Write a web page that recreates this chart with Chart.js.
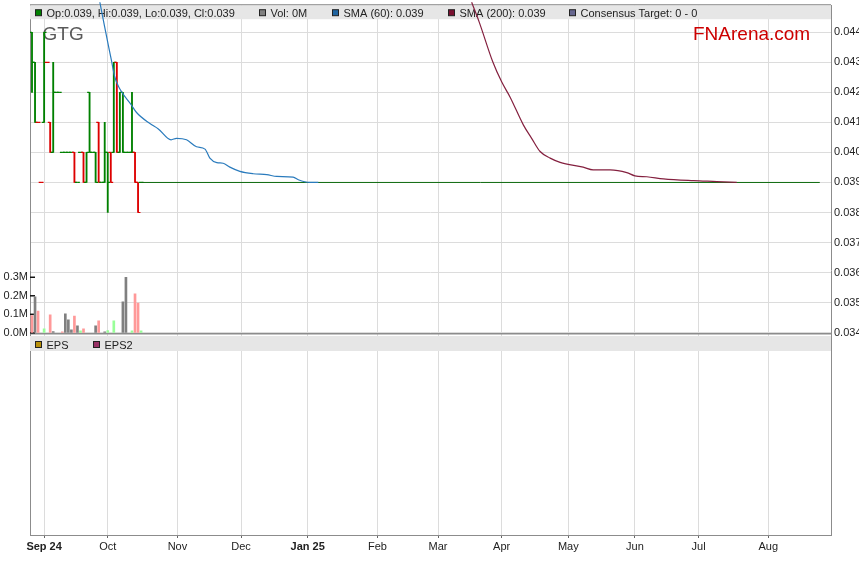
<!DOCTYPE html>
<html>
<head>
<meta charset="utf-8">
<title>GTG</title>
<script src="https://cdn.jsdelivr.net/npm/chart.js@4.4.1/dist/chart.umd.min.js"></script>
<style>
  body { margin: 0; background: #fff; }
  canvas { display: block; }
</style>
</head>
<body>
<canvas id="gtg-chart" width="859" height="566"></canvas>
<script>
// x is a trading-day index: 0 = Tue 27 Aug 2024, one step per weekday
const monthIdx = [4, 25, 48, 69, 91, 114, 134, 155, 177, 199, 220, 243];
const monthLabels = ['Sep 24', 'Oct', 'Nov', 'Dec', 'Jan 25', 'Feb', 'Mar', 'Apr', 'May', 'Jun', 'Jul', 'Aug'];
const boldLabels = ['Sep 24', 'Jan 25'];

const priceTicks = [0.034, 0.035, 0.036, 0.037, 0.038, 0.039, 0.040, 0.041, 0.042, 0.043, 0.044];
const volTicks = [0, 0.1, 0.2, 0.3];

// daily OHLC bars
const barIdx = [0, 1, 2, 3, 4, 5, 6, 7, 8, 9, 10, 11, 12, 13, 14, 15, 16, 17, 18, 19, 20, 21, 22, 23, 24, 25, 26, 27, 28, 29, 30, 31, 32, 33, 34, 35, 36];
const opens  = [0.044, 0.043, 0.041, 0.039, 0.041, 0.043, 0.041, 0.040, 0.042, 0.042, 0.040, 0.040, 0.040, 0.040, 0.040, 0.039, 0.040, 0.040, 0.039, 0.042, 0.040, 0.040, 0.041, 0.039, 0.039, 0.040, 0.040, 0.040, 0.043, 0.040, 0.042, 0.040, 0.040, 0.040, 0.040, 0.039, 0.039];
const highs  = [0.044, 0.043, 0.041, 0.039, 0.044, 0.043, 0.041, 0.043, 0.042, 0.042, 0.040, 0.040, 0.040, 0.040, 0.040, 0.039, 0.040, 0.040, 0.040, 0.042, 0.040, 0.040, 0.041, 0.039, 0.041, 0.040, 0.040, 0.043, 0.043, 0.042, 0.042, 0.040, 0.040, 0.042, 0.040, 0.039, 0.039];
const lows   = [0.042, 0.041, 0.041, 0.039, 0.041, 0.043, 0.040, 0.040, 0.042, 0.042, 0.040, 0.040, 0.040, 0.040, 0.039, 0.039, 0.040, 0.039, 0.039, 0.040, 0.040, 0.039, 0.039, 0.039, 0.039, 0.038, 0.039, 0.040, 0.040, 0.040, 0.040, 0.040, 0.040, 0.040, 0.039, 0.038, 0.039];
const closes = [0.043, 0.041, 0.041, 0.039, 0.044, 0.043, 0.040, 0.042, 0.042, 0.042, 0.040, 0.040, 0.040, 0.040, 0.039, 0.039, 0.040, 0.039, 0.040, 0.040, 0.040, 0.039, 0.039, 0.039, 0.040, 0.039, 0.039, 0.043, 0.040, 0.042, 0.040, 0.040, 0.040, 0.040, 0.039, 0.038, 0.039];
const barDir = ['u', 'u', 'd', 'd', 'u', 'd', 'd', 'u', 'u', 'u', 'u', 'u', 'u', 'u', 'd', 'u', 'u', 'd', 'u', 'u', 'u', 'u', 'd', 'u', 'u', 'u', 'd', 'u', 'd', 'u', 'u', 'u', 'u', 'u', 'd', 'd', 'u'];

// no trades after mid October, price held at the last close
const flatIdx = [36, 260];
const flatVal = [0.039, 0.039];

// volume, millions of shares
const volIdx = [0, 1, 2, 4, 6, 7, 10, 11, 12, 13, 14, 15, 16, 17, 21, 22, 24, 25, 27, 30, 31, 33, 34, 35, 36];
const volM = [0.093, 0.194, 0.118, 0.022, 0.097, 0.007, 0.005, 0.102, 0.070, 0.016, 0.091, 0.038, 0.011, 0.022, 0.038, 0.065, 0.005, 0.012, 0.065, 0.167, 0.300, 0.011, 0.210, 0.161, 0.011];
const volDir = ['d', 'n', 'd', 'u', 'd', 'n', 'd', 'n', 'n', 'n', 'd', 'n', 'u', 'd', 'n', 'd', 'n', 'u', 'u', 'n', 'n', 'u', 'd', 'd', 'u'];

const sma60Idx = [22.4, 23.8, 26.2, 27.3, 28.9, 32.8, 34.5, 38.8, 41.7, 45.9, 47.7, 51.0, 54.3, 57.1, 58.7, 61.0, 63.1, 65.3, 68.6, 73.0, 77.5, 80.8, 86.2, 87.9, 91.7, 94.5];
const sma60 = [0.04500, 0.04427, 0.04307, 0.04252, 0.04213, 0.04158, 0.04133, 0.04097, 0.04078, 0.04042, 0.04047, 0.04042, 0.04019, 0.04011, 0.03981, 0.03966, 0.03964, 0.03951, 0.03937, 0.03929, 0.03926, 0.03920, 0.03918, 0.03909, 0.03900, 0.03900];

const sma200Idx = [145.1, 147.6, 152.1, 155.0, 157.8, 162.2, 164.9, 167.7, 171.0, 174.3, 181.9, 185.2, 190.8, 196.3, 199.0, 202.9, 208.4, 218.3, 226.0, 232.6];
const sma200 = [0.04500, 0.04434, 0.04301, 0.04235, 0.04184, 0.04091, 0.04047, 0.04003, 0.03981, 0.03967, 0.03951, 0.03942, 0.03942, 0.03933, 0.03922, 0.03919, 0.03912, 0.03906, 0.03903, 0.03900];

const topKeys = [
    { x: 35.5, color: '#008000', text: 'Op:0.039, Hi:0.039, Lo:0.039, Cl:0.039' },
    { x: 259.5, color: '#808080', text: 'Vol: 0M' },
    { x: 332.5, color: '#1f64a0', text: 'SMA (60): 0.039' },
    { x: 448.5, color: '#7a1030', text: 'SMA (200): 0.039' },
    { x: 569.5, color: '#66668f', text: 'Consensus Target: 0 - 0' }
];
const epsKeys = [
    { x: 35.5, color: '#b8900a', text: 'EPS' },
    { x: 93.5, color: '#993366', text: 'EPS2' }
];

const barColor = { u: '#008000', d: '#dd0000' };
const volColor = { u: '#99ff99', d: '#ff9999', n: '#808080' };
const FONT = '"Liberation Sans", Arial, sans-serif';

const pts = (xs, ys) => xs.map((x, i) => ({ x: x, y: ys[i] }));

// vertical axes ask for label room at the ends; the panel runs to the edge instead
const noEndPadding = s => { s.paddingTop = 0; s.paddingBottom = 0; };

const panelDecor = {
    id: 'panelDecor',
    beforeDatasetsDraw(chart) {
        const { ctx, chartArea: a, scales } = chart;
        const w = a.right - a.left;
        const sepY = Math.round(scales.y.getPixelForValue(0.034));
        ctx.save();

        ctx.fillStyle = '#e6e6e6';
        ctx.fillRect(a.left, a.top, w, 14);
        ctx.fillRect(a.left, sepY + 3, w, 15);

        ctx.fillStyle = '#8c8c8c';
        ctx.fillRect(a.left, a.top - 1, w, 1);
        ctx.fillRect(a.left, sepY, w, 1.5);

        // volume ticks sit inside the left edge
        ctx.strokeStyle = '#111';
        ctx.lineWidth = 1.5;
        volTicks.forEach(v => {
            const y = scales.yVol.getPixelForValue(v);
            ctx.beginPath();
            ctx.moveTo(a.left, y);
            ctx.lineTo(a.left + 5, y);
            ctx.stroke();
        });

        ctx.font = '11px ' + FONT;
        ctx.textBaseline = 'alphabetic';
        const key = (k, top) => {
            ctx.fillStyle = k.color;
            ctx.fillRect(k.x, top, 6, 6);
            ctx.strokeStyle = '#222';
            ctx.lineWidth = 1;
            ctx.strokeRect(k.x, top, 6, 6);
            ctx.fillStyle = '#222';
            ctx.fillText(k.text, k.x + 11, top + 7);
        };
        topKeys.forEach(k => key(k, a.top + 4.5));
        epsKeys.forEach(k => key(k, sepY + 8.5));

        ctx.font = '19px ' + FONT;
        ctx.fillStyle = '#5a5a5a';
        ctx.fillText('GTG', 42.5, 40);
        ctx.fillStyle = '#cc0000';
        ctx.fillText('FNArena.com', 693, 39.5);

        ctx.restore();
    }
};

Chart.defaults.font.family = FONT;
Chart.defaults.font.size = 11;
Chart.defaults.color = '#222';

const ctx = document.getElementById('gtg-chart').getContext('2d');

new Chart(ctx, {
    type: 'bar',
    data: {
        datasets: [
            {
                type: 'line', label: 'SMA (60)', order: 1,
                data: pts(sma60Idx, sma60),
                borderColor: '#2a7bbd', borderWidth: 1.2, pointRadius: 0,
                cubicInterpolationMode: 'monotone',
                clip: { left: 0, top: 5, right: 0, bottom: 0 }
            },
            {
                type: 'line', label: 'SMA (200)', order: 1,
                data: pts(sma200Idx, sma200),
                borderColor: '#84203f', borderWidth: 1.2, pointRadius: 0,
                cubicInterpolationMode: 'monotone',
                clip: { left: 0, top: 5, right: 0, bottom: 0 }
            },
            {
                type: 'line', label: 'flat', order: 2,
                data: pts(flatIdx, flatVal),
                borderColor: '#0d6a0d', borderWidth: 1, pointRadius: 0
            },
            {
                type: 'scatter', label: 'open', order: 3,
                data: pts(barIdx.map(j => j - 0.4), opens),
                pointStyle: 'line', pointRadius: 1.2, pointBorderWidth: 1.2,
                pointBorderColor: barDir.map(d => barColor[d])
            },
            {
                type: 'scatter', label: 'close', order: 3,
                data: pts(barIdx.map(j => j + 0.4), closes),
                pointStyle: 'line', pointRadius: 1.2, pointBorderWidth: 1.2,
                pointBorderColor: barDir.map(d => barColor[d])
            },
            {
                type: 'bar', label: 'range', order: 4,
                data: barIdx.map((j, k) => ({ x: j, y: [lows[k], highs[k]] })),
                backgroundColor: barDir.map(d => barColor[d]),
                barThickness: 1.2, grouped: false, borderWidth: 0
            },
            {
                type: 'bar', label: 'Vol', order: 5, yAxisID: 'yVol',
                data: pts(volIdx, volM),
                backgroundColor: volDir.map(d => volColor[d]),
                barThickness: 2, grouped: false, borderWidth: 0
            }
        ]
    },
    options: {
        responsive: false,
        animation: false,
        devicePixelRatio: 1,
        layout: { padding: { top: 3, left: 0, right: 0, bottom: 0 } },
        plugins: { legend: { display: false }, tooltip: { enabled: false } },
        scales: {
            x: {
                type: 'linear', min: -0.66, max: 263.7, offset: false,
                afterBuildTicks: s => { s.ticks = monthIdx.map(v => ({ value: v })); },
                afterFit: s => { s.height = 31; },
                ticks: {
                    autoSkip: false, maxRotation: 0, padding: 2, color: '#222',
                    callback: (v, i) => monthLabels[i],
                    font: c => ({ size: 11, weight: boldLabels.includes(monthLabels[c.index]) ? 'bold' : 'normal' })
                },
                grid: { offset: false, color: '#dcdcdc', tickColor: '#666', tickLength: 3 },
                border: { color: '#8c8c8c' }
            },
            y: {
                type: 'linear', position: 'right', min: 0.027262, max: 0.044902,
                afterBuildTicks: s => { s.ticks = priceTicks.map(v => ({ value: v })); },
                afterFit: s => { s.width = 28; noEndPadding(s); },
                ticks: { padding: 3, color: '#222', callback: v => v.toFixed(3) },
                grid: { color: '#dcdcdc', drawTicks: false },
                border: { color: '#8c8c8c' }
            },
            yVol: {
                type: 'linear', position: 'left', min: -1.0914, max: 1.7688,
                afterBuildTicks: s => { s.ticks = volTicks.map(v => ({ value: v })); },
                afterFit: s => { s.width = 30; noEndPadding(s); },
                ticks: { padding: 2, color: '#222', callback: v => v.toFixed(1) + 'M' },
                grid: { drawOnChartArea: false, drawTicks: false },
                border: { color: '#8c8c8c' }
            }
        }
    },
    plugins: [panelDecor]
});
</script>
</body>
</html>
